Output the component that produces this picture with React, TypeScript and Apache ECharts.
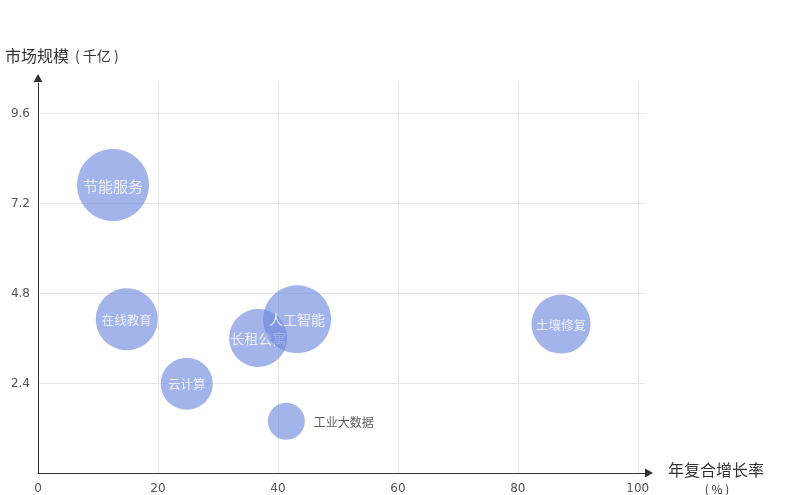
import React, { useEffect, useRef } from "react";
import * as echarts from "echarts";

const names = ["节能服务", "在线教育", "云计算", "长租公寓", "人工智能", "工业大数据", "土壤修复"];
const growth = [12.5, 14.8, 24.8, 36.7, 43.2, 41.4, 87.2];
const scale = [7.68, 4.1, 2.38, 3.6, 4.1, 1.38, 3.97];
const bubbleSize = [72, 62, 52, 58, 68, 37, 59];
const labelSize = [15, 12.5, 12.5, 14, 14, 12, 12.5];
const xTicks = [0, 20, 40, 60, 80, 100];
const yTicks = [2.4, 4.8, 7.2, 9.6];

const FONT = "'Noto Sans CJK SC', 'Noto Sans', sans-serif";

export default function App() {
  const ref = useRef<HTMLDivElement>(null);
  useEffect(() => {
    if (!ref.current) return;
    const chart = echarts.init(ref.current, null, { renderer: "svg" });
    const series = names.map((n, i) => {
      const outside = n === "工业大数据";
      return {
        type: "scatter",
        name: n,
        z: 2 + i,
        data: [[growth[i], scale[i]]],
        symbolSize: bubbleSize[i],
        itemStyle: { color: "rgba(109,137,221,0.8)" },
        label: {
          show: true,
          formatter: n,
          position: outside ? "right" : "inside",
          distance: 9,
          color: outside ? "#333" : "#fff",
          fontSize: labelSize[i],
          fontFamily: FONT,
        },
      };
    });
    chart.setOption({
      animation: false,
      textStyle: { fontFamily: FONT },
      grid: { left: 38, right: 154, top: 83, bottom: 22, containLabel: false },
      xAxis: {
        type: "value",
        min: 0,
        max: 101.2,
        axisLine: {
          show: true,
          lineStyle: { color: "#333", width: 1 },
          symbol: ["none", "triangle"],
          symbolSize: [9, 8],
          symbolOffset: [0, 4],
        },
        axisTick: { show: false, customValues: xTicks },
        axisLabel: {
          customValues: xTicks,
          color: "#555",
          fontSize: 12,
          fontFamily: "'DejaVu Sans', sans-serif",
          margin: 9,
        },
        splitLine: { show: true, lineStyle: { color: "#e6e6e6" } },
      },
      yAxis: {
        type: "value",
        min: 0,
        max: 10.4,
        axisLine: {
          show: true,
          lineStyle: { color: "#333", width: 1 },
          symbol: ["none", "triangle"],
          symbolSize: [9, 8],
          symbolOffset: [0, 5],
        },
        axisTick: { show: false, customValues: yTicks },
        axisLabel: {
          customValues: yTicks,
          color: "#555",
          fontSize: 12,
          fontFamily: "'DejaVu Sans', sans-serif",
          margin: 8,
        },
        splitLine: { show: true, lineStyle: { color: "#e6e6e6" } },
      },
      graphic: [
        {
          type: "text",
          x: 5,
          y: 55,
          style: {
            text: "{a|市场规模}{b|( 千亿 )}",
            verticalAlign: "middle",
            rich: {
              a: { fontSize: 16, fill: "#333", fontFamily: FONT },
              b: { fontSize: 14, fill: "#333", fontFamily: FONT, padding: [0, 0, 0, 6] },
            },
          },
        },
        {
          type: "text",
          x: 716,
          y: 469,
          style: {
            text: "年复合增长率",
            fontSize: 16,
            lineHeight: 18,
            fill: "#333",
            fontFamily: FONT,
            align: "center",
            verticalAlign: "middle",
          },
        },
        {
          type: "text",
          x: 717,
          y: 488,
          style: {
            text: "( % )",
            fontSize: 12,
            lineHeight: 13,
            fill: "#333",
            fontFamily: FONT,
            align: "center",
            verticalAlign: "middle",
          },
        },
      ],
      series,
    });
    return () => chart.dispose();
  }, []);
  return (
    <div
      ref={ref}
      style={{ position: "fixed", left: 0, top: 0, width: 799, height: 495 }}
    />
  );
}
